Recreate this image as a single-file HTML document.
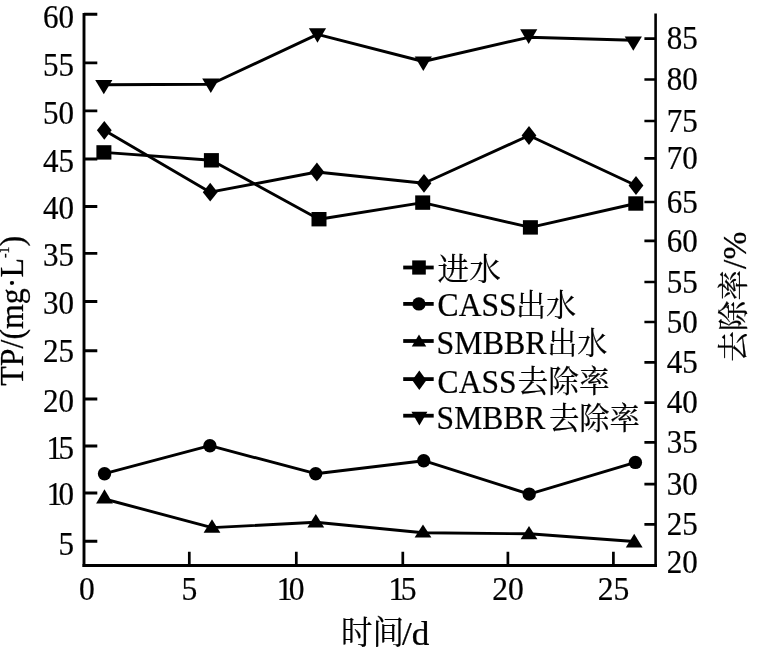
<!DOCTYPE html>
<html lang="zh"><head><meta charset="utf-8"><title>TP 去除效果</title>
<style>html,body{margin:0;padding:0;background:#fff}svg{display:block}text{fill:#000;stroke:#000}.l{stroke-width:.25px}.c{stroke-width:.2px}</style></head><body>
<svg width="766" height="658" viewBox="0 0 766 658">
<rect width="766" height="658" fill="#fff"/>
<g stroke="#000" fill="none" stroke-linecap="butt">
<path stroke-width="2.9" d="M84 13V567.1"/>
<path stroke-width="3.2" d="M82.55 565.5H656.9"/>
<path stroke-width="2.6" d="M655.6 13.6V567.1"/>
<path stroke-width="2.9" d="M84 14.3H97.3M84 62.9H97.3M84 110.9H97.3M84 159H97.3M84 206.5H97.3M84 253.4H97.3M84 301.5H97.3M84 350.7H97.3M84 399H97.3M84 446H97.3M84 493H97.3M84 541.2H97.3"/>
<path stroke-width="2.7" d="M655.6 38.6H644.4M655.6 79.5H644.4M655.6 121H644.4M655.6 158.3H644.4M655.6 202H644.4M655.6 240.8H644.4M655.6 282H644.4M655.6 322H644.4M655.6 362.3H644.4M655.6 402.7H644.4M655.6 442.3H644.4M655.6 484.1H644.4M655.6 524.4H644.4"/>
<path stroke-width="2.7" d="M189.3 565.5V551.8M296.3 565.5V551.8M402.8 565.5V551.8M507.9 565.5V551.8M613.4 565.5V551.8"/>
</g>
<g stroke="#000" stroke-width="2.9" fill="none" stroke-linejoin="round">
<polyline points="103.9,152.4 211.4,160.3 319,219.2 422.7,202.6 530.4,227.4 635.8,203.5"/>
<polyline points="104.5,473.7 209.9,445.7 315.7,473.7 423.7,460.7 529.2,494.1 635.4,462.4"/>
<polyline points="104.5,499 212,527.6 315.8,522.3 423,532.8 529,533.8 634.2,541.5"/>
<polyline points="104.3,130.3 210.2,192.2 316.9,172 424,183.3 529,135.5 636,185.5"/>
<polyline points="103.8,84.75 210.8,84.2 317.5,34.4 423.3,61.5 528.7,37.3 633.3,40.3"/>
</g>
<g fill="#000">
<rect x="96.4" y="145.2" width="15" height="14.4"/>
<rect x="203.9" y="153.1" width="15" height="14.4"/>
<rect x="311.5" y="212" width="15" height="14.4"/>
<rect x="415.2" y="195.4" width="15" height="14.4"/>
<rect x="522.9" y="220.2" width="15" height="14.4"/>
<rect x="628.3" y="196.3" width="15" height="14.4"/>
<circle cx="104.5" cy="473.7" r="6.7"/>
<circle cx="209.9" cy="445.7" r="6.7"/>
<circle cx="315.7" cy="473.7" r="6.7"/>
<circle cx="423.7" cy="460.7" r="6.7"/>
<circle cx="529.2" cy="494.1" r="6.7"/>
<circle cx="635.4" cy="462.4" r="6.7"/>
<path d="M104.5 489.35L112.9 503.45H96.1Z"/>
<path d="M212 519.2L220.4 532.8H203.6Z"/>
<path d="M315.8 514L324.2 527.6H307.4Z"/>
<path d="M423 524.4L431.4 537.6H414.6Z"/>
<path d="M529 526.1L537.4 539.2H520.6Z"/>
<path d="M634.2 533.8L642.6 547.4H625.8Z"/>
<path d="M104.3 120.9L111.7 130.3L104.3 139.7L96.9 130.3Z"/>
<path d="M210.2 182.8L217.6 192.2L210.2 201.6L202.8 192.2Z"/>
<path d="M316.9 162.6L324.3 172L316.9 181.4L309.5 172Z"/>
<path d="M424 173.9L431.4 183.3L424 192.7L416.6 183.3Z"/>
<path d="M529 126.1L536.4 135.5L529 144.9L521.6 135.5Z"/>
<path d="M636 176.1L643.4 185.5L636 194.9L628.6 185.5Z"/>
<path d="M95.2 80.05H112.4L103.8 94.2Z"/>
<path d="M202.2 78.4H219.4L210.8 93Z"/>
<path d="M308.9 28.2H326.1L317.5 42.8Z"/>
<path d="M414.7 56.4H431.9L423.3 71Z"/>
<path d="M520.1 29.2H537.3L528.7 43.9Z"/>
<path d="M624.7 36.6H641.9L633.3 50.8Z"/>
</g>
<text transform="translate(74 28) scale(0.9 0.955)" font-size="34.5" text-anchor="end" style="font-family:&quot;Liberation Serif&quot;, serif" class="l">60</text>
<text transform="translate(74 76.1) scale(0.9 0.955)" font-size="34.5" text-anchor="end" style="font-family:&quot;Liberation Serif&quot;, serif" class="l">55</text>
<text transform="translate(74 123.8) scale(0.9 0.955)" font-size="34.5" text-anchor="end" style="font-family:&quot;Liberation Serif&quot;, serif" class="l">50</text>
<text transform="translate(74 171.9) scale(0.9 0.955)" font-size="34.5" text-anchor="end" style="font-family:&quot;Liberation Serif&quot;, serif" class="l">45</text>
<text transform="translate(74 219.4) scale(0.9 0.955)" font-size="34.5" text-anchor="end" style="font-family:&quot;Liberation Serif&quot;, serif" class="l">40</text>
<text transform="translate(74 266) scale(0.9 0.955)" font-size="34.5" text-anchor="end" style="font-family:&quot;Liberation Serif&quot;, serif" class="l">35</text>
<text transform="translate(74 314.4) scale(0.9 0.955)" font-size="34.5" text-anchor="end" style="font-family:&quot;Liberation Serif&quot;, serif" class="l">30</text>
<text transform="translate(74 362.2) scale(0.9 0.955)" font-size="34.5" text-anchor="end" style="font-family:&quot;Liberation Serif&quot;, serif" class="l">25</text>
<text transform="translate(74 411.9) scale(0.9 0.955)" font-size="34.5" text-anchor="end" style="font-family:&quot;Liberation Serif&quot;, serif" class="l">20</text>
<text transform="translate(74 458.9) scale(0.9 0.955)" font-size="34.5" text-anchor="end" style="font-family:&quot;Liberation Serif&quot;, serif" class="l">1<tspan dx="-3.8">5</tspan></text>
<text transform="translate(74 505.4) scale(0.9 0.955)" font-size="34.5" text-anchor="end" style="font-family:&quot;Liberation Serif&quot;, serif" class="l">1<tspan dx="-4.2">0</tspan></text>
<text transform="translate(74 554.7) scale(0.9 0.955)" font-size="34.5" text-anchor="end" style="font-family:&quot;Liberation Serif&quot;, serif" class="l">5</text>
<text transform="translate(666.8 49.3) scale(0.9 0.965)" font-size="34.5" text-anchor="start" style="font-family:&quot;Liberation Serif&quot;, serif" class="l">85</text>
<text transform="translate(666.8 90.2) scale(0.9 0.965)" font-size="34.5" text-anchor="start" style="font-family:&quot;Liberation Serif&quot;, serif" class="l">80</text>
<text transform="translate(666.8 131.7) scale(0.9 0.965)" font-size="34.5" text-anchor="start" style="font-family:&quot;Liberation Serif&quot;, serif" class="l">75</text>
<text transform="translate(666.8 169) scale(0.9 0.965)" font-size="34.5" text-anchor="start" style="font-family:&quot;Liberation Serif&quot;, serif" class="l">70</text>
<text transform="translate(666.8 212.7) scale(0.9 0.965)" font-size="34.5" text-anchor="start" style="font-family:&quot;Liberation Serif&quot;, serif" class="l">65</text>
<text transform="translate(666.8 251.5) scale(0.9 0.965)" font-size="34.5" text-anchor="start" style="font-family:&quot;Liberation Serif&quot;, serif" class="l">60</text>
<text transform="translate(666.8 292.7) scale(0.9 0.965)" font-size="34.5" text-anchor="start" style="font-family:&quot;Liberation Serif&quot;, serif" class="l">55</text>
<text transform="translate(666.8 332.7) scale(0.9 0.965)" font-size="34.5" text-anchor="start" style="font-family:&quot;Liberation Serif&quot;, serif" class="l">50</text>
<text transform="translate(666.8 373) scale(0.9 0.965)" font-size="34.5" text-anchor="start" style="font-family:&quot;Liberation Serif&quot;, serif" class="l">45</text>
<text transform="translate(666.8 413.4) scale(0.9 0.965)" font-size="34.5" text-anchor="start" style="font-family:&quot;Liberation Serif&quot;, serif" class="l">40</text>
<text transform="translate(666.8 453) scale(0.9 0.965)" font-size="34.5" text-anchor="start" style="font-family:&quot;Liberation Serif&quot;, serif" class="l">35</text>
<text transform="translate(666.8 494.8) scale(0.9 0.965)" font-size="34.5" text-anchor="start" style="font-family:&quot;Liberation Serif&quot;, serif" class="l">30</text>
<text transform="translate(666.8 535.1) scale(0.9 0.965)" font-size="34.5" text-anchor="start" style="font-family:&quot;Liberation Serif&quot;, serif" class="l">25</text>
<text transform="translate(666.8 573) scale(0.9 0.965)" font-size="34.5" text-anchor="start" style="font-family:&quot;Liberation Serif&quot;, serif" class="l">20</text>
<text transform="translate(87 599.8) scale(0.915 0.955)" font-size="34.5" text-anchor="middle" style="font-family:&quot;Liberation Serif&quot;, serif" class="l">0</text>
<text transform="translate(189.5 599.8) scale(0.915 0.955)" font-size="34.5" text-anchor="middle" style="font-family:&quot;Liberation Serif&quot;, serif" class="l">5</text>
<text transform="translate(290.7 599.8) scale(0.915 0.955)" font-size="34.5" text-anchor="middle" style="font-family:&quot;Liberation Serif&quot;, serif" class="l">1<tspan dx="-4.2">0</tspan></text>
<text transform="translate(402.6 599.8) scale(0.915 0.955)" font-size="34.5" text-anchor="middle" style="font-family:&quot;Liberation Serif&quot;, serif" class="l">1<tspan dx="-3.8">5</tspan></text>
<text transform="translate(508.1 599.8) scale(0.915 0.955)" font-size="34.5" text-anchor="middle" style="font-family:&quot;Liberation Serif&quot;, serif" class="l">20</text>
<text transform="translate(613.6 599.8) scale(0.915 0.955)" font-size="34.5" text-anchor="middle" style="font-family:&quot;Liberation Serif&quot;, serif" class="l">25</text>
<g stroke="#000" stroke-width="3.8">
<path d="M403.2 267.5H433.7"/>
<path d="M403.2 303.9H433.7"/>
<path d="M403.2 341H433.7"/>
<path d="M403.2 379.1H433.7"/>
<path d="M403.2 415.7H433.7"/>
</g><g fill="#000">
<rect x="412.2" y="260.4" width="13.6" height="14.2"/>
<circle cx="418.9" cy="303.9" r="6.7"/>
<path d="M419 334.4L426.25 346.6H411.75Z"/>
<path d="M419.3 370.4L426.4 380.2L419.3 390L412.2 380.2Z"/>
<path d="M411.4 411.8H427.4L419.4 425.4Z"/>
</g>
<text transform="translate(437.6 279.8) scale(1.02 0.99)" font-size="31.0" text-anchor="start" style="font-family:&quot;Liberation Serif&quot;, &quot;Noto Serif CJK SC&quot;, serif" class="c">进水</text>
<text transform="translate(437.6 316.3) scale(0.915 0.955)" font-size="34.5" text-anchor="start" style="font-family:&quot;Liberation Serif&quot;, serif" class="l">CASS</text>
<text transform="translate(516 316) scale(0.97 0.99)" font-size="31.0" text-anchor="start" style="font-family:&quot;Liberation Serif&quot;, &quot;Noto Serif CJK SC&quot;, serif" class="c">出水</text>
<text transform="translate(436.6 353.8) scale(0.925 0.955)" font-size="34.5" text-anchor="start" style="font-family:&quot;Liberation Serif&quot;, serif" class="l">SMBBR</text>
<text transform="translate(547.3 353.5) scale(0.97 0.99)" font-size="31.0" text-anchor="start" style="font-family:&quot;Liberation Serif&quot;, &quot;Noto Serif CJK SC&quot;, serif" class="c">出水</text>
<text transform="translate(437.6 392.5) scale(0.915 0.955)" font-size="34.5" text-anchor="start" style="font-family:&quot;Liberation Serif&quot;, serif" class="l">CASS</text>
<text transform="translate(517.6 392) scale(0.99 0.99)" font-size="31.0" text-anchor="start" style="font-family:&quot;Liberation Serif&quot;, &quot;Noto Serif CJK SC&quot;, serif" class="c">去除率</text>
<text transform="translate(436.6 429) scale(0.915 0.955)" font-size="34.5" text-anchor="start" style="font-family:&quot;Liberation Serif&quot;, serif" class="l">SMBBR</text>
<text transform="translate(548.9 428.5) scale(0.98 0.99)" font-size="31.0" text-anchor="start" style="font-family:&quot;Liberation Serif&quot;, &quot;Noto Serif CJK SC&quot;, serif" class="c">去除率</text>
<text transform="translate(341 643.6) scale(1.0 1.03)" font-size="31.5" text-anchor="start" style="font-family:&quot;Liberation Serif&quot;, &quot;Noto Serif CJK SC&quot;, serif" class="c">时间</text>
<text transform="translate(402 644.6) scale(1.02 0.955)" font-size="34.5" text-anchor="start" style="font-family:&quot;Liberation Serif&quot;, serif" class="l">/d</text>
<text transform="translate(22.7 385.7) rotate(-90) scale(0.925 0.96)" font-size="34.5" text-anchor="start" style="font-family:&quot;Liberation Serif&quot;, serif" class="l">TP/(mg·L<tspan font-size="15" dy="-14.5">-1</tspan><tspan dy="14.5">)</tspan></text>
<text transform="translate(743.9 361.8) rotate(-90) scale(1.0 1.0)" font-size="30.6" text-anchor="start" style="font-family:&quot;Liberation Serif&quot;, &quot;Noto Serif CJK SC&quot;, serif" class="c">去除率</text>
<text transform="translate(745.6 268.9) rotate(-90) scale(0.97 1.0)" font-size="34.5" text-anchor="start" style="font-family:&quot;Liberation Serif&quot;, serif" class="l">/%</text>
</svg></body></html>
